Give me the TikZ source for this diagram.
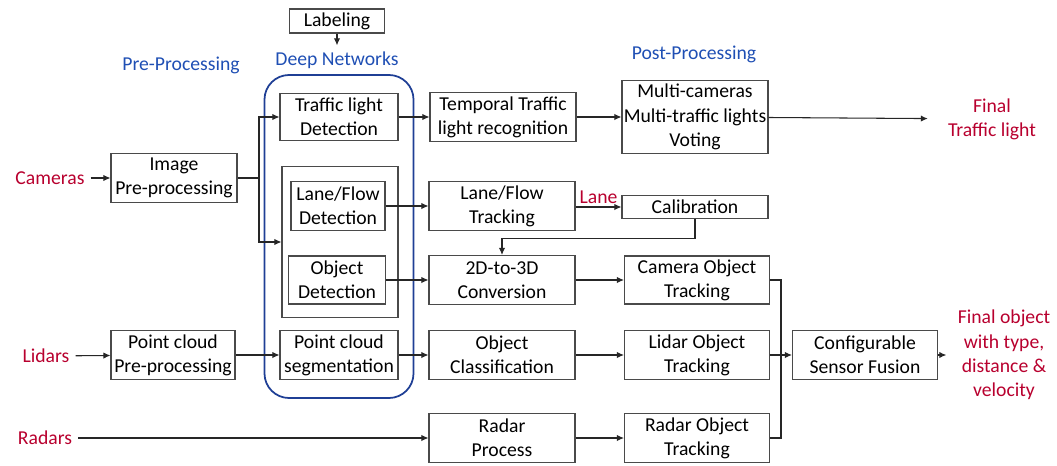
\documentclass[tikz,border=0pt]{standalone}
\usepackage{fontspec}
\setmainfont{Carlito}
\usetikzlibrary{arrows.meta,positioning,fit}
\definecolor{adred}{HTML}{B8002E}
\definecolor{adblue}{HTML}{1F4FB4}
\definecolor{adframe}{HTML}{1F3F95}
\definecolor{adgrey}{HTML}{4A4A4A}
\tikzset{
  >={Latex[length=4pt,width=3.6pt]},
  font=\fontsize{11.2}{13.8}\selectfont,
  box/.style={draw=adgrey,line width=0.6pt,align=center,inner sep=1pt,
              minimum width=2.92cm,minimum height=0.98cm},
  group/.style={draw=adgrey,line width=0.6pt,inner sep=0pt},
  dnn/.style={draw=adframe,line width=1pt,rounded corners=14pt,inner xsep=0.3cm,
              inner ysep=0.36cm},
  stage/.style={text=adblue},
  sensor/.style={text=adred,align=center},
  flow/.style={->,line width=0.6pt,draw=black!85},
  link/.style={line width=0.6pt,draw=black!85},
}

\begin{document}
\begin{tikzpicture}[x=0.02cm,y=-0.02cm]
  \useasboundingbox (0,0) rectangle (1057,466);

  % stage titles
  \node[box,minimum width=1.9cm,minimum height=0.48cm] (label) at (337,21) {Labeling};
  \node[stage] (dnnlbl) at (337,60) {Deep Networks};
  \node[stage] (prelbl) at (181,65) {Pre-Processing};
  \node[stage] (postlbl) at (694,54) {Post-Processing};

  % sensors
  \node[sensor] (cam) at (50,178) {Cameras};
  \node[sensor] (lid) at (46,356) {Lidars};
  \node[sensor] (rad) at (45,438) {Radars};

  % pre-processing
  \node[box,minimum width=2.52cm] (imgpre) at (174,178) {Image\\Pre-processing};
  \node[box,minimum width=2.48cm] (pcpre) at (173,355) {Point cloud\\Pre-processing};

  % deep networks
  \node[box,minimum width=2.36cm,minimum height=0.94cm] (tldet) at (339,117) {Traffic light\\Detection};
  \node[group,minimum width=2.32cm,minimum height=3.02cm] (camgrp) at (340,242) {};
  \node[box,minimum width=1.88cm] (lanedet) at (338,206) {Lane/Flow\\Detection};
  \node[box,minimum width=1.94cm,minimum height=0.96cm] (objdet) at (337,280) {Object\\Detection};
  \node[box,minimum width=2.36cm] (pcseg) at (339,355) {Point cloud\\segmentation};
  \node[dnn,fit=(tldet)(camgrp)(pcseg)] (dnn) {};

  % middle column
  \node[box] (temporal) at (503,117) {Temporal Traffic\\light recognition};
  \node[box] (lanetrk) at (502,206) {Lane/Flow\\Tracking};
  \node[box] (conv) at (502,280) {2D-to-3D\\Conversion};
  \node[box] (objcls) at (502,355) {Object\\Classification};
  \node[box] (radproc) at (502,438) {Radar\\Process};

  % post-processing
  \node[box,minimum height=1.46cm] (vote) at (695,117) {Multi-cameras\\Multi-traffic lights\\Voting};
  \node[box,minimum height=0.46cm] (calib) at (695,207) {Calibration};
  \node[box,minimum width=2.9cm,minimum height=0.96cm] (camtrk) at (697,280) {Camera Object\\Tracking};
  \node[box,minimum width=2.9cm] (lidtrk) at (697,355) {Lidar Object\\Tracking};
  \node[box,minimum width=2.9cm] (radtrk) at (697,438) {Radar Object\\Tracking};
  \node[box,minimum width=2.9cm] (fusion) at (865,355) {Configurable\\Sensor Fusion};

  % outputs
  \node[sensor] (tlout) at (992,119) {Final\\Traffic light};
  \node[sensor] (objout) at (1004,355) {Final object\\with type,\\distance \&\\velocity};

  \draw[flow] (label) -- (dnnlbl);
  \draw[flow] (cam) -- (imgpre);
  \draw[flow] (lid) -- (pcpre);
  \draw[flow] (rad) -- (radproc);

  \coordinate (split) at (259,178);
  \draw[link] (imgpre.east) -- (split);
  \draw[flow] (split) |- (tldet.west);
  \draw[flow] (split) |- (camgrp.west);
  \draw[flow] (pcpre) -- (pcseg);

  \draw[flow] (tldet) -- (temporal);
  \draw[flow] (lanedet) -- (lanetrk);
  \draw[flow] (objdet) -- (conv);
  \draw[flow] (pcseg) -- (objcls);

  \draw[flow] (temporal) -- (vote);
  \draw[flow,shorten >=8pt] (vote) -- (tlout);
  \draw[flow] (lanetrk.east |- calib) -- node[sensor,above,inner sep=1.5pt]{Lane} (calib.west);
  \draw[flow] (calib.south) -- ++(0,19) -| (conv.north);
  \draw[flow] (conv) -- (camtrk);
  \draw[flow] (objcls) -- (lidtrk);
  \draw[flow] (radproc) -- (radtrk);

  % fusion bus
  \coordinate (bus) at (781,355);
  \draw[link] (camtrk.east) -| (bus) |- (radtrk.east);
  \draw[flow] (lidtrk.east) -- (fusion.west);
  \draw[flow,shorten >=3pt] (fusion) -- (objout);
\end{tikzpicture}
\end{document}
